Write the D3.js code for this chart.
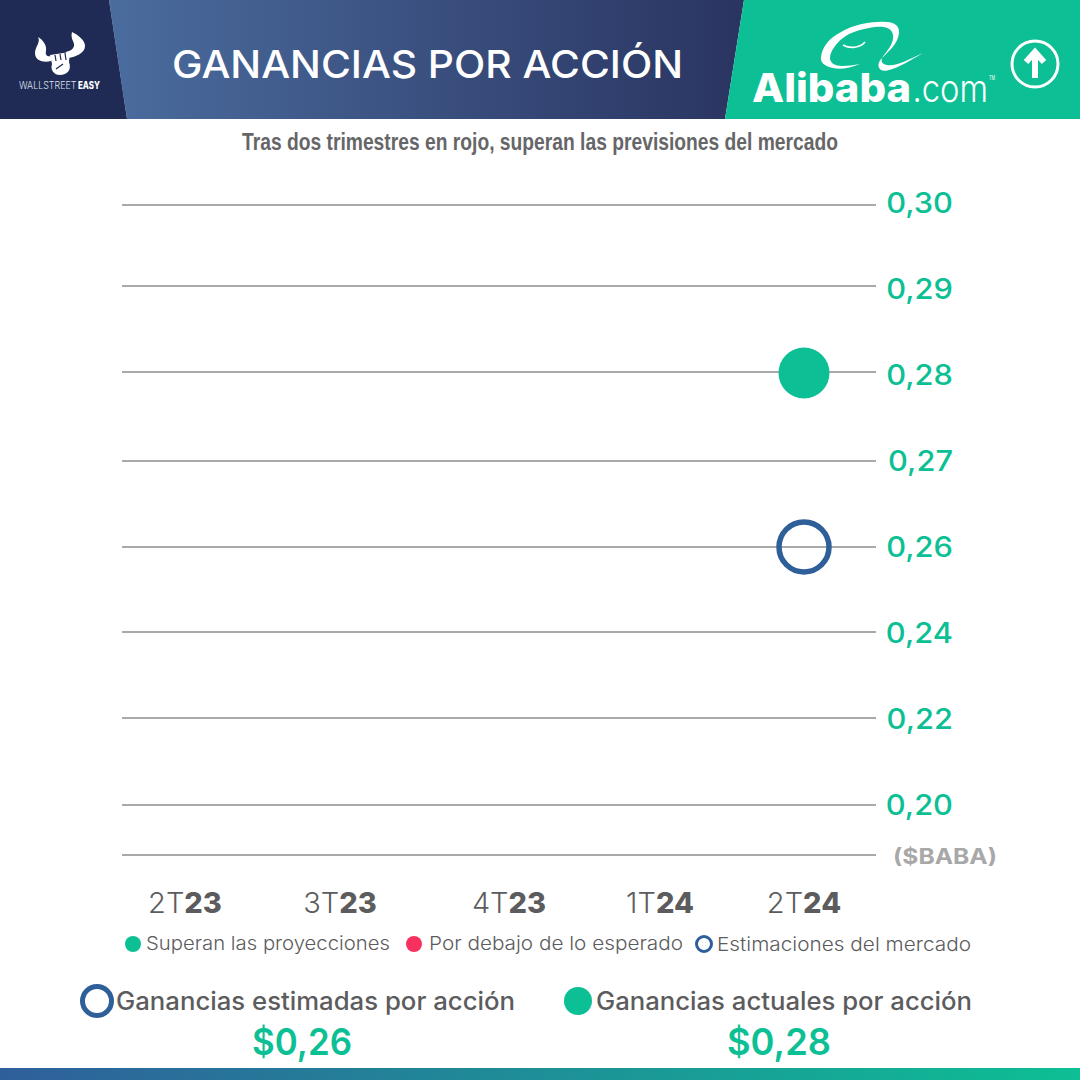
<!DOCTYPE html>
<html>
<head>
<meta charset="utf-8">
<script src="https://cdn.jsdelivr.net/npm/d3@7"></script>
<style>
  html, body { margin: 0; padding: 0; background: #fff; }
  svg { display: block; }
  text { font-family: Inter, "Open Sans", sans-serif; }
</style>
</head>
<body>
<div id="chart"></div>
<script>
var quarters = ["2T23", "3T23", "4T23", "1T24", "2T24"];
var yTicks = [0.30, 0.29, 0.28, 0.27, 0.26, 0.24, 0.22, 0.20];
var actualQuarters = ["2T24"];
var actualValues = [0.28];
var estimateQuarters = ["2T24"];
var estimateValues = [0.26];
var legendLabels = ["Superan las proyecciones", "Por debajo de lo esperado", "Estimaciones del mercado"];

var green = "#0dbf94", blue = "#2f5f99", navy = "#1f2a55", red = "#f6305f", grey = "#5c5c5e";
var comma = function(v, digits){ return d3.format("." + digits + "f")(v).replace(".", ","); };

var svg = d3.select("#chart").append("svg").attr("width", 1080).attr("height", 1080);
var defs = svg.append("defs");

function gradient(id, from, to){
  var g = defs.append("linearGradient").attr("id", id);
  g.append("stop").attr("offset", "0%").attr("stop-color", from);
  g.append("stop").attr("offset", "100%").attr("stop-color", to);
}
gradient("headGrad", "#4a6c9e", "#2a3461");
gradient("footGrad", "#2f5f9b", "#0dbf94");

// fits a text between two x positions, fonts here are not the original ones
function label(str, x0, x1, y, size, fill, weight, family){
  var t = svg.append("text").attr("x", x0).attr("y", y)
    .attr("font-size", size).attr("fill", fill).attr("font-weight", weight || 400)
    .text(str);
  if (family) t.style("font-family", family);
  t.attr("textLength", x1 - x0).attr("lengthAdjust", "spacingAndGlyphs");
  return t;
}

// header
svg.append("polygon").attr("points", "109,0 744,0 725,119 127,119").attr("fill", "url(#headGrad)");
svg.append("polygon").attr("points", "0,0 109,0 127,119 0,119").attr("fill", navy);
svg.append("polygon").attr("points", "744,0 1080,0 1080,119 725,119").attr("fill", green);
label("GANANCIAS POR ACCIÓN", 172, 683, 78, 38, "#fff", 500);

// bull logo
var bull = svg.append("g").attr("fill", "#fff");
bull.append("path").attr("d", "M38,37 C41,42 35,47 35,53 C35,61 44,63 51,61 L52,56 C47,57 45,55 46,51 C47,45 43,40 38,37 Z");
bull.append("path").attr("d", "M72,32 C70,39 75,42 74,46 C73,50 69,51 66,52 L68,58 C76,57 85,53 85,46 C85,40 78,35 72,32 Z");
bull.append("path").attr("d", "M50,55 L70,52 L69,62 C72,70 67,75 60,75 C54,75 50,70 52,64 Z");
svg.append("path").attr("d", "M55,55 L56,61 M60,54 L61,60 M65,53 L66,60 M56,69 L63,64").attr("stroke", navy).attr("stroke-width", 1.2).attr("fill", "none");
label("WALLSTREET", 19, 76.5, 89, 10, "#dfe3ee", 300);
label("EASY", 78, 100, 89, 10, "#fff", 800);

// alibaba logo
svg.append("path").attr("fill", "#fff").attr("d",
  "M860,64 C850,68 840,70 833,68 C824,66 820,62 821,57 C822,48 828,40 836,35 C848,27 864,22 878,22 C890,21 900,23 899,33 C898,44 888,52 882,58 C878,62 877,67 881,70 C888,74 908,62 923,53 C908,60 895,67 887,65 C881,64 880,60 884,55 C889,49 894,42 893,35 C892,28 885,26 875,27 C862,29 850,32 843,38 C836,43 830,52 830,58 C830,63 835,66 842,66 C848,66 854,65 860,64 Z");
svg.append("path").attr("d", "M843,45 C850,49 860,48 865,42").attr("stroke", "#fff").attr("stroke-width", 1.6).attr("fill", "none");
label("Alibaba", 752, 911, 102, 40, "#fff", 800);
label(".com", 912.5, 988, 102, 38, "#fff", 300);
label("TM", 989, 995, 80, 6, "#fff", 400);

// up arrow
svg.append("circle").attr("cx", 1035).attr("cy", 64).attr("r", 23).attr("fill", "none").attr("stroke", "#fff").attr("stroke-width", 3);
svg.append("path").attr("d", "M1035,78 L1035,53 M1026,62 L1035,52 L1044,62").attr("stroke", "#fff").attr("stroke-width", 6).attr("fill", "none");

// subtitle
label("Tras dos trimestres en rojo, superan las previsiones del mercado", 242, 838, 150, 24, "#666668", 700, "'Liberation Sans Narrow', 'Liberation Sans', sans-serif");

// scales: the axis is not linear, below 0,26 each step is 0,02
var y = d3.scaleLinear().domain(yTicks).range([205, 286, 372, 461, 547, 632, 718, 805]);
var yText = d3.scalePoint().domain(yTicks).range([203, 805]);
var x = d3.scaleOrdinal().domain(quarters).range([185, 340, 509, 660, 804]);

svg.selectAll("line.grid").data(yTicks).enter().append("line")
  .attr("class", "grid")
  .attr("x1", 122).attr("x2", 876)
  .attr("y1", function(d){ return y(d); })
  .attr("y2", function(d){ return y(d); })
  .attr("stroke", "#a9a9a9").attr("stroke-width", 2);

svg.append("line").attr("x1", 122).attr("x2", 876).attr("y1", 855).attr("y2", 855)
  .attr("stroke", "#a9a9a9").attr("stroke-width", 2);

svg.selectAll("text.ytick").data(yTicks).enter().append("text")
  .attr("class", "ytick")
  .attr("x", 953)
  .attr("y", function(d){ return yText(d) + 10; })
  .attr("text-anchor", "end")
  .attr("font-size", 28).attr("font-weight", 500).attr("fill", green)
  .text(function(d){ return comma(d, 2); })
  .attr("lengthAdjust", "spacingAndGlyphs")
  .attr("textLength", function(){ return this.getComputedTextLength() * 1.1; });

svg.append("text").attr("x", 893).attr("y", 864)
  .attr("font-size", 21).attr("font-weight", 700).attr("fill", "#a8a8a8").text("($BABA)")
  .attr("textLength", 104).attr("lengthAdjust", "spacingAndGlyphs");

var xt = svg.selectAll("text.xtick").data(quarters).enter().append("text")
  .attr("class", "xtick")
  .attr("x", function(d){ return x(d); })
  .attr("y", 913)
  .attr("text-anchor", "middle")
  .attr("font-size", 29).attr("fill", grey);
xt.append("tspan").attr("font-weight", 300).text(function(d){ return d.slice(0, 2); });
xt.append("tspan").attr("font-weight", 800).text(function(d){ return d.slice(2); });

// points
svg.selectAll("circle.actual").data(actualValues).enter().append("circle")
  .attr("class", "actual")
  .attr("cx", function(d, i){ return x(actualQuarters[i]); })
  .attr("cy", function(d){ return y(d) + 1; })
  .attr("r", 25.5).attr("fill", green);

svg.selectAll("circle.estimate").data(estimateValues).enter().append("circle")
  .attr("class", "estimate")
  .attr("cx", function(d, i){ return x(estimateQuarters[i]); })
  .attr("cy", function(d){ return y(d); })
  .attr("r", 25).attr("fill", "none").attr("stroke", blue).attr("stroke-width", 5.5);

// legend
svg.append("circle").attr("cx", 133).attr("cy", 944).attr("r", 8).attr("fill", green);
label(legendLabels[0], 146, 390, 950, 18.5, grey, 300);
svg.append("circle").attr("cx", 414).attr("cy", 944).attr("r", 8).attr("fill", red);
label(legendLabels[1], 429, 683, 950, 18.5, grey, 300);
svg.append("circle").attr("cx", 704).attr("cy", 944).attr("r", 7.5).attr("fill", "#fff").attr("stroke", blue).attr("stroke-width", 3);
label(legendLabels[2], 717, 971, 951, 18.5, grey, 300);

// totals under the chart
svg.append("circle").attr("cx", 97).attr("cy", 1001).attr("r", 14.5).attr("fill", "#fff").attr("stroke", blue).attr("stroke-width", 5);
label("Ganancias estimadas por acción", 116, 515, 1010, 25, grey, 500);
svg.append("circle").attr("cx", 578).attr("cy", 1001).attr("r", 14).attr("fill", green);
label("Ganancias actuales por acción", 596, 972, 1010, 25, grey, 500);

label("$" + comma(estimateValues[0], 2), 252, 352, 1055, 37, green, 600);
label("$" + comma(actualValues[0], 2), 727, 831, 1055, 37, green, 600);

svg.append("rect").attr("x", 0).attr("y", 1068).attr("width", 1080).attr("height", 12).attr("fill", "url(#footGrad)");
</script>
</body>
</html>
